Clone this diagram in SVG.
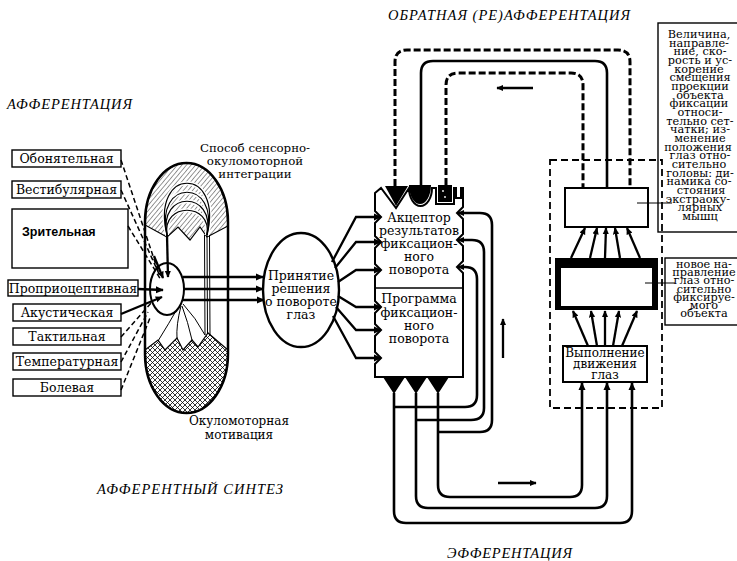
<svg xmlns="http://www.w3.org/2000/svg" width="737" height="561" viewBox="0 0 737 561">
<defs>
<style>
.s{font-family:"DejaVu Serif","Liberation Serif",serif;fill:#000}
.lb{font-size:12.5px;text-anchor:middle}
.tb{font-size:11.3px;text-anchor:middle}
.ti{font-family:"Liberation Serif",serif;font-style:italic;font-size:14.5px;fill:#000}
.box{fill:#fff;stroke:#000;stroke-width:1.4}
.ln{fill:none;stroke:#000;stroke-width:2.3}
.lp{fill:none;stroke:#000;stroke-width:2.6}
.dp{fill:none;stroke:#000;stroke-width:3;stroke-dasharray:7 3}
.dl{fill:none;stroke:#000;stroke-width:1.5;stroke-dasharray:5 3}
.th{fill:none;stroke:#000;stroke-width:1}
.fr{fill:none;stroke:#000;stroke-width:1.8;stroke-dasharray:7 4}
</style>
<marker id="ah" viewBox="0 0 10 10" refX="9" refY="5" markerWidth="8" markerHeight="8" markerUnits="userSpaceOnUse" orient="auto"><path d="M0,0.5 L10,5 L0,9.5 Z"/></marker>
<marker id="as" viewBox="0 0 10 10" refX="9" refY="5" markerWidth="7" markerHeight="7" markerUnits="userSpaceOnUse" orient="auto"><path d="M0,0.5 L10,5 L0,9.5 Z"/></marker>
<pattern id="hatch" patternUnits="userSpaceOnUse" width="3.5" height="3.5" patternTransform="rotate(40)"><line x1="0" y1="0" x2="0" y2="3.5" stroke="#000" stroke-width="0.8"/></pattern>
<pattern id="cross" patternUnits="userSpaceOnUse" width="5" height="5"><path d="M0,0 L5,5 M5,0 L0,5" stroke="#000" stroke-width="0.8"/></pattern>
</defs>
<rect width="737" height="561" fill="#fff"/>

<g id="titles">
<text class="ti" x="388" y="20" textLength="242" lengthAdjust="spacing">ОБРАТНАЯ (РЕ)АФФЕРЕНТАЦИЯ</text>
<text class="ti" x="7" y="109" textLength="125" lengthAdjust="spacing">АФФЕРЕНТАЦИЯ</text>
<text class="ti" x="97" y="494" textLength="186" lengthAdjust="spacing">АФФЕРЕНТНЫЙ СИНТЕЗ</text>
<text class="ti" x="447" y="558" textLength="125" lengthAdjust="spacing">ЭФФЕРЕНТАЦИЯ</text>
</g>

<g id="n-obon"><rect class="box" x="12" y="150" width="109" height="17"/><text class="s lb" x="66.5" y="163">Обонятельная</text></g>
<g id="n-vest"><rect class="box" x="12" y="181" width="109" height="17"/><text class="s lb" x="66.5" y="194">Вестибулярная</text></g>
<g id="n-zrit"><rect class="box" x="12" y="209" width="116" height="59"/><text x="22" y="236" font-family="Liberation Sans, Arial, sans-serif" font-weight="bold" font-size="12.5">Зрительная</text></g>
<g id="n-propr"><rect class="box" x="8" y="280" width="130" height="16"/><text class="s lb" x="73" y="293">Проприоцептивная</text></g>
<g id="n-akust"><rect class="box" x="13" y="304" width="108" height="17"/><text class="s lb" x="67" y="317">Акустическая</text></g>
<g id="n-takt"><rect class="box" x="13" y="328" width="108" height="17"/><text class="s lb" x="67" y="341">Тактильная</text></g>
<g id="n-temp"><rect class="box" x="13" y="353" width="108" height="17"/><text class="s lb" x="67" y="366">Температурная</text></g>
<g id="n-bol"><rect class="box" x="13" y="379" width="108" height="17"/><text class="s lb" x="67" y="392">Болевая</text></g>

<g id="n-capsule">
<path d="M145,222 A41.5,59 0 0 1 228,222 L228,354 A41.5,59 0 0 1 145,354 Z" fill="#fff" stroke="#000" stroke-width="2.5"/>
<path d="M145,225 L145,222 A41.5,59 0 0 1 228,222 L228,226 L207,237 L200,227 L190,240 L178,227 L167,237 Z" fill="url(#hatch)" stroke="#000" stroke-width="1.2"/>
<path d="M145,350 L158,340 L165,350 L177,338 L183,350 L192,340 L198,347 L208,333 L228,350 L228,354 A41.5,59 0 0 1 145,354 Z" fill="url(#cross)" stroke="#000" stroke-width="1.2"/>
<g fill="none">
<path d="M167,235 C150,166 224,166 207,235" stroke="#fff" stroke-width="4"/>
<path d="M167,235 C154,178 220,178 207,235" stroke="#fff" stroke-width="4"/>
<path d="M167,235 C158,190 216,190 207,235" stroke="#fff" stroke-width="4"/>
<path d="M167,235 C162,202 212,202 207,235" stroke="#fff" stroke-width="4"/>
<path d="M167,235 C150,166 224,166 207,235" stroke="#000" stroke-width="1.2"/>
<path d="M167,235 C154,178 220,178 207,235" stroke="#000" stroke-width="1.2"/>
<path d="M167,235 C158,190 216,190 207,235" stroke="#000" stroke-width="1.2"/>
<path d="M167,235 C162,202 212,202 207,235" stroke="#000" stroke-width="1.2"/>
</g>
<path class="th" d="M204.5,235 L205,335 M207,235 L207.5,334 M209.5,235 L210,336"/>
<path class="th" d="M180,304 Q168,325 158,341 M181,306 Q176,325 177,339 M182,306 Q188,322 192,340 M183,304 Q196,318 205,335"/>
<ellipse cx="167" cy="289" rx="17" ry="26" fill="#fff" stroke="#000" stroke-width="2"/>
</g>
<text class="s" x="255" y="152" font-size="11.8" text-anchor="middle">Способ сенсорно-</text>
<text class="s" x="255" y="165" font-size="11.8" text-anchor="middle">окуломоторной</text>
<text class="s" x="255" y="178" font-size="11.8" text-anchor="middle">интеграции</text>
<text class="s" x="239" y="425" font-size="12" text-anchor="middle">Окуломоторная</text>
<text class="s" x="239" y="439" font-size="12" text-anchor="middle">мотивация</text>

<g id="n-decision">
<ellipse cx="301" cy="290" rx="38" ry="57" fill="#fff" stroke="#000" stroke-width="2.4"/>
<text class="s lb" x="301" y="280">Принятие</text>
<text class="s lb" x="301" y="293">решения</text>
<text class="s lb" x="301" y="306">о повороте</text>
<text class="s lb" x="301" y="319">глаз</text>
</g>

<g id="n-acceptor">
<path d="M375,193 L381,188 L396,208 L409,188 A11.5,18 0 0 0 432,188 L436,188 L436,204 L454,204 L454,188 L456,188 L456,198 L461,198 L461,188 L463,188 L463,207 L457,213 L463,219 L463,234 L457,240 L463,246 L463,261 L457,267 L463,273 L463,377 L375,377 L375,364 L381,358 L375,352 L375,336 L381,330 L375,324 L375,313 L381,307 L375,301 L375,276 L381,270 L375,264 L375,248 L381,242 L375,236 L375,223 L381,217 L375,211 Z" fill="#fff" stroke="#000" stroke-width="2"/>
<line x1="375" y1="288" x2="463" y2="288" stroke="#000" stroke-width="1.5"/>
<path d="M385,186 L408,186 L396,206 Z"/>
<path d="M409,185 A11,19 0 0 0 431,185 Z"/>
<rect x="438" y="185" width="14" height="17"/>
<circle cx="443" cy="191" r="0.9" fill="#fff"/><circle cx="445" cy="197" r="0.9" fill="#fff"/>
<path d="M383,377 L405,377 L394,394 Z M405,377 L427,377 L416,394 Z M427,377 L449,377 L438,394 Z"/>
<text class="s lb" x="419" y="222">Акцептор</text>
<text class="s lb" x="419" y="235">результатов</text>
<text class="s lb" x="419" y="248">фиксацион-</text>
<text class="s lb" x="419" y="261">ного</text>
<text class="s lb" x="419" y="274">поворота</text>
<text class="s lb" x="419" y="303">Программа</text>
<text class="s lb" x="419" y="317">фиксацион-</text>
<text class="s lb" x="419" y="330">ного</text>
<text class="s lb" x="419" y="343">поворота</text>
</g>

<g id="n-frame"><rect class="fr" x="550" y="160" width="112" height="248"/></g>
<g id="n-upper"><rect x="565" y="188" width="83" height="39" fill="#fff" stroke="#000" stroke-width="2"/></g>
<g id="n-thick"><rect x="555" y="258" width="103" height="52"/><rect x="561" y="268" width="91" height="38" fill="#fff"/></g>
<g id="n-exec"><rect x="563" y="346" width="84" height="36" fill="#fff" stroke="#000" stroke-width="2"/>
<text class="s" x="605" y="357" font-size="12" text-anchor="middle">Выполнение</text>
<text class="s" x="605" y="368" font-size="12" text-anchor="middle">движения</text>
<text class="s" x="605" y="379" font-size="12" text-anchor="middle">глаз</text>
</g>

<g id="n-text1">
<rect x="658" y="23" width="90" height="209" fill="none" stroke="#000" stroke-width="1.4"/>
<g class="s tb">
<text x="699" y="38">Величина,</text>
<text x="699" y="46.7">направле-</text>
<text x="700" y="55.3">ние, ско-</text>
<text x="700" y="64">рость и ус-</text>
<text x="699" y="72.7">корение</text>
<text x="700" y="81.4">смещения</text>
<text x="700" y="90">проекции</text>
<text x="700" y="98.7">объекта</text>
<text x="699" y="107.4">фиксации</text>
<text x="700" y="116">относи-</text>
<text x="700" y="124.7">тельно сет-</text>
<text x="700" y="133.4">чатки; из-</text>
<text x="700" y="142">менение</text>
<text x="698" y="150.7">положения</text>
<text x="700" y="159.4">глаз отно-</text>
<text x="699" y="168">сительно</text>
<text x="700" y="176.7">головы: ди-</text>
<text x="699" y="185.4">намика со-</text>
<text x="701" y="194">стояния</text>
<text x="698" y="202.7">экстраоку-</text>
<text x="700" y="211.4">лярных</text>
<text x="700" y="220">мышц</text>
</g>
</g>
<g id="n-text2">
<rect x="665" y="258" width="80" height="67" fill="none" stroke="#000" stroke-width="1.4"/>
<g class="s tb">
<text x="704" y="268">новое на-</text>
<text x="704" y="276.2">правление</text>
<text x="704" y="284.3">глаз отно-</text>
<text x="704" y="292.5">сительно</text>
<text x="704" y="300.7">фиксируе-</text>
<text x="704" y="308.8">мого</text>
<text x="704" y="317">объекта</text>
</g>
</g>

<g id="connectors">
<path class="dl" d="M121,160 L158,271"/>
<path class="dl" d="M121,190 L160,276"/>
<path class="dl" d="M128,226 L161,280"/>
<path class="ln" d="M138,289 L163,290" stroke-width="3" marker-end="url(#ah)"/>
<path class="ln" d="M121,314 L162,297" stroke-width="1.8" marker-end="url(#as)"/>
<path class="dl" d="M121,337 L152,302"/>
<path class="dl" d="M121,362 L148,312"/>
<path class="dl" d="M121,390 L150,318"/>
<path class="ln" d="M167,235 L168,277" stroke-width="1.8" marker-end="url(#as)"/>
<path class="ln" d="M154,256 L163,278" stroke-width="2.4" marker-end="url(#as)"/>
<path class="ln" d="M183,277 L263,277" stroke-width="2" marker-end="url(#ah)"/>
<path class="ln" d="M184,289 L263,289" stroke-width="2" marker-end="url(#ah)"/>
<path class="ln" d="M182,300 L264,300" stroke-width="2" marker-end="url(#ah)"/>
<path class="ln" d="M332,262 L356,217 L381,217" marker-end="url(#ah)"/>
<path class="ln" d="M335,268 L356,242 L381,242" marker-end="url(#ah)"/>
<path class="ln" d="M338,282 L356,270 L381,270" marker-end="url(#ah)"/>
<path class="ln" d="M338,296 L356,307 L381,307" marker-end="url(#ah)"/>
<path class="ln" d="M336,307 L356,330 L381,330" marker-end="url(#ah)"/>
<path class="ln" d="M333,316 L356,358 L381,358" marker-end="url(#ah)"/>
<path class="dp" d="M395,186 L395,62 Q395,50 407,50 L618,50 Q630,50 630,62 L630,188"/>
<path class="lp" d="M421,185 L421,73 Q421,61 433,61 L595,61 Q607,61 607,73 L607,188"/>
<path class="dp" d="M446,185 L446,85 Q446,73 458,73 L571,73 Q583,73 583,85 L583,188"/>
<path class="ln" d="M533,88 L497,88" stroke-width="1.8" marker-end="url(#as)"/>
<path class="lp" d="M394,407 L465,407 Q477,407 477,395 L477,279 Q477,267 465,267 L458,267" marker-end="url(#as)"/>
<path class="lp" d="M416,420 L471,420 Q484,420 484,408 L484,252 Q484,240 472,240 L458,240" marker-end="url(#as)"/>
<path class="lp" d="M438,432 L480,432 Q492,432 492,420 L492,225 Q492,213 480,213 L458,213" marker-end="url(#as)"/>
<path class="ln" d="M503,358 L503,319" stroke-width="1.8" marker-end="url(#as)"/>
<path class="lp" d="M394,393 L394,511 Q394,523 406,523 L620,523 Q632,523 632,511 L632,383" marker-end="url(#ah)"/>
<path class="lp" d="M416,393 L416,496 Q416,508 428,508 L595,508 Q607,508 607,496 L607,383" marker-end="url(#ah)"/>
<path class="lp" d="M438,393 L438,485 Q438,497 450,497 L570,497 Q582,497 582,485 L582,383" marker-end="url(#ah)"/>
<path class="ln" d="M498,483 L536,483" stroke-width="1.8" marker-end="url(#as)"/>
<path class="ln" d="M588,346 L573,311" stroke-width="2" marker-end="url(#as)"/>
<path class="ln" d="M597,346 L591,311" stroke-width="2" marker-end="url(#as)"/>
<path class="ln" d="M605,346 L605,311" stroke-width="2" marker-end="url(#as)"/>
<path class="ln" d="M613,346 L619,311" stroke-width="2" marker-end="url(#as)"/>
<path class="ln" d="M622,346 L637,311" stroke-width="2" marker-end="url(#as)"/>
<path class="ln" d="M571,258 L585,228" stroke-width="2" marker-end="url(#as)"/>
<path class="ln" d="M590,258 L597,228" stroke-width="2" marker-end="url(#as)"/>
<path class="ln" d="M605,258 L606,228" stroke-width="2" marker-end="url(#as)"/>
<path class="ln" d="M620,258 L615,228" stroke-width="2" marker-end="url(#as)"/>
<path class="ln" d="M640,258 L627,228" stroke-width="2" marker-end="url(#as)"/>
<line class="th" x1="637" y1="203" x2="672" y2="203"/>
<line class="th" x1="645" y1="283" x2="675" y2="283"/>
</g>
</svg>
